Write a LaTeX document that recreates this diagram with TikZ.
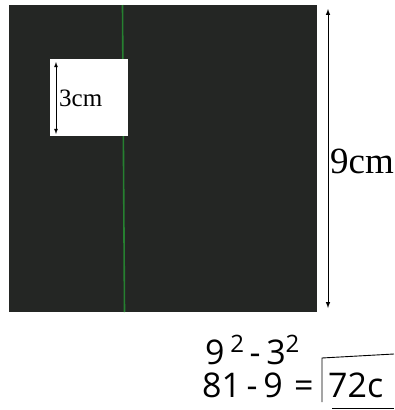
\documentclass[tikz,border=0pt]{standalone}
\usepackage{fontspec}
\setmainfont{Liberation Serif}
\newfontfamily\handfont{Open Sans}
\usepackage{xcolor}
\usepackage{tikz}
\usetikzlibrary{calc, positioning}

\definecolor{board}{RGB}{36,38,36}
\definecolor{seam}{RGB}{38,128,48}

\newcommand{\hsup}[1]{\raisebox{0.35em}{\fontsize{24}{24}\selectfont #1}}

\tikzset{
    dim/.style={<->, line width=1pt},
    hand/.style={font=\handfont\fontsize{34}{34}\selectfont, inner sep=0pt, anchor=west}
}

\begin{document}
\begin{tikzpicture}[>=latex, x=1pt, y=-1pt]
    \useasboundingbox (0,0) rectangle (394,410);
    \clip (0,0) rectangle (394,410);

    % Hình vuông lớn
    \fill[board] (9,5) rectangle (317,312);
    \draw[seam, line width=1.6pt] (122.5,5) -- (124.5,312);

    % Hình vuông nhỏ bị cắt
    \fill[white] (50,59) rectangle (128,136);
    \coordinate (a1) at (56,62);
    \coordinate (a2) at (56,134);
    \draw[dim, line width=0.8pt] (a1) -- (a2);
    \node[anchor=west, inner sep=1pt, font=\fontsize{25}{25}\selectfont] (small) at (58,98) {3cm};

    % Cạnh 9cm
    \coordinate (b1) at (328,9);
    \coordinate (b2) at (328,308);
    \draw[dim] (b1) -- (b2);
    \node[anchor=west, inner sep=1pt, font=\fontsize{37}{37}\selectfont] (big) at (329,161) {9cm};

    % Phép tính
    \node[hand] (sq) at (205,350) {9\,\hsup{2}\,-\,3\hsup{2}};
    \node[hand] (diff) at (202,385) {81\,-\,9\,\,=};
    \node[hand] (ans) at (328,385) {72c};
    \draw[line width=0.9pt] (322,402) -- (322,358) -- (394,354);
    \draw[line width=0.9pt] (332,408) -- (394,408);
\end{tikzpicture}
\end{document}
